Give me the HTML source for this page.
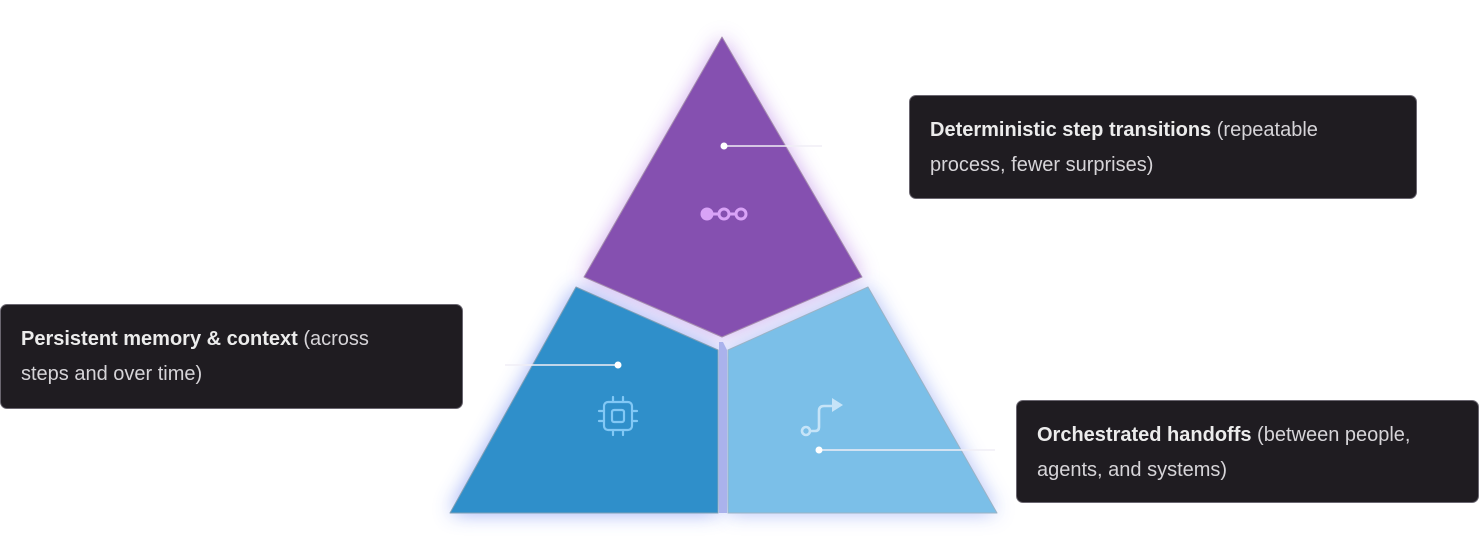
<!DOCTYPE html>
<html><head><style>
body{margin:0;width:1479px;height:556px;background:#fff;position:relative;overflow:hidden;font-family:"Liberation Sans",sans-serif}
.box{position:absolute;background:#1f1c21;border:1px solid #6a6670;border-radius:7px;box-sizing:border-box;color:#d6d4d8;font-size:20px;line-height:35px;padding:17px 20px;white-space:nowrap}
.box b{color:#ececec}
svg{position:absolute;left:0;top:0}
</style></head><body>
<svg width="1479" height="556" viewBox="0 0 1479 556">
<defs>
<filter id="gp" x="-30%" y="-30%" width="160%" height="160%"><feGaussianBlur stdDeviation="10"/></filter>
</defs>
<polygon points="722,37 862,277 722,337 584,277" fill="#c9a0ec" filter="url(#gp)" opacity="0.9"/>
<polygon points="576,287 718,350 718,513 450,513" fill="#8fa2f5" filter="url(#gp)" opacity="0.9"/>
<polygon points="868,287 728,350 728,513 997,513" fill="#a6b6f7" filter="url(#gp)" opacity="0.9"/>
<polygon points="719,342 723,342 727,350 727,513 719,513" fill="#aab2ec"/>
<polygon points="722,37 862,277 722,337 584,277" fill="#8550b0" stroke="#a48cae" stroke-width="1" stroke-linejoin="round"/>
<polygon points="576,287 718,350 718,513 450,513" fill="#2f8fca" stroke="#7f9fb5" stroke-width="1" stroke-linejoin="round"/>
<polygon points="868,287 728,350 728,513 997,513" fill="#7bbfe8" stroke="#9bb3c5" stroke-width="1" stroke-linejoin="round"/>
<line x1="724" y1="146" x2="822" y2="146" stroke="#f0eef5" stroke-width="1.5"/>
<circle cx="724" cy="146" r="3.5" fill="#fff"/>
<line x1="505" y1="365" x2="618" y2="365" stroke="#f0eef5" stroke-width="1.5"/>
<circle cx="618" cy="365" r="3.5" fill="#fff"/>
<line x1="819" y1="450" x2="995" y2="450" stroke="#f0eef5" stroke-width="1.5"/>
<circle cx="819" cy="450" r="3.5" fill="#fff"/>
<g fill="#d9a3f7" stroke="#d9a3f7">
<line x1="707" y1="214" x2="741" y2="214" stroke-width="3"/>
<circle cx="707" cy="214" r="6.5" stroke="none"/>
<circle cx="724" cy="214" r="5" fill="#8550b0" stroke-width="3"/>
<circle cx="741" cy="214" r="5" fill="#8550b0" stroke-width="3"/>
</g>
<g fill="none" stroke="#82c8f5" stroke-width="2.2" stroke-linecap="round">
<rect x="604" y="402" width="28" height="28" rx="4"/>
<rect x="612" y="410" width="12" height="12" rx="2"/>
<path d="M613 397v5M623 397v5M613 430v5M623 430v5M599 411h5M599 421h5M632 411h5M632 421h5"/>
</g>
<g fill="none" stroke="#c6e4f8" stroke-width="2.6" stroke-linecap="round">
<circle cx="806" cy="431" r="4"/>
<path d="M810 431h5q4 0 4-4v-16q0-5 5-5h10"/>
</g>
<polygon points="832,398 843,405 832,412" fill="#c6e4f8"/>
</svg>
<div class="box" style="left:909px;top:95px;width:508px;height:104px"><b>Deterministic step transitions</b> (repeatable<br>process, fewer surprises)</div>
<div class="box" style="left:0;top:304px;width:463px;height:105px"><b>Persistent memory &amp; context</b> (across<br>steps and over time)</div>
<div class="box" style="left:1016px;top:400px;width:463px;height:103px"><b>Orchestrated handoffs</b> (between people,<br>agents, and systems)</div>
</body></html>
